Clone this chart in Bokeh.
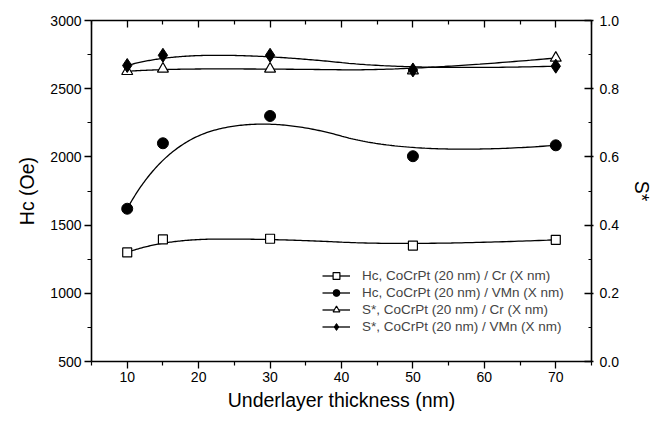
import numpy as np
from bokeh.plotting import figure
from bokeh.models import (Range1d, LinearAxis, Legend, LegendItem, FixedTicker,
                          NumeralTickFormatter)
from bokeh.embed import file_html
from bokeh.resources import INLINE

# ---- data ----
thickness = [10, 15, 30, 50, 70]
hc_cr = [1300, 1395, 1400, 1350, 1392]
hc_vmn = [1620, 2100, 2300, 2005, 2085]
s_cr = [0.851, 0.858, 0.858, 0.853, 0.890]
s_vmn = [0.868, 0.898, 0.898, 0.855, 0.866]

labels = [
    "Hc, CoCrPt (20 nm) / Cr (X nm)",
    "Hc, CoCrPt (20 nm) / VMn (X nm)",
    "S*, CoCrPt (20 nm) / Cr (X nm)",
    "S*, CoCrPt (20 nm) / VMn (X nm)",
]

left_ticks = [500, 1000, 1500, 2000, 2500, 3000]
left_minor = [750, 1250, 1750, 2250, 2750]
bottom_ticks = [10, 20, 30, 40, 50, 60, 70]
bottom_minor = [5, 15, 25, 35, 45, 55, 65, 75]
right_ticks = [0.0, 0.2, 0.4, 0.6, 0.8, 1.0]
right_minor = [0.1, 0.3, 0.5, 0.7, 0.9]


def bspline(xs, ys, n=200, k=2):
    P = np.column_stack([xs, ys]).astype(float)
    m = len(P)
    k = min(k, m - 1)
    n_int = m - k - 1
    knots = np.concatenate([np.zeros(k + 1),
                            np.linspace(0, 1, n_int + 2)[1:-1],
                            np.ones(k + 1)])
    out = []
    for t in np.linspace(0, 1, n):
        if t >= 1.0:
            out.append(P[-1])
            continue
        s = np.searchsorted(knots, t, side="right") - 1
        d = [P[j + s - k].copy() for j in range(k + 1)]
        for r in range(1, k + 1):
            for j in range(k, r - 1, -1):
                i = j + s - k
                a = (t - knots[i]) / (knots[i + k + 1 - r] - knots[i])
                d[j] = (1 - a) * d[j - 1] + a * d[j]
        out.append(d[k])
    out = np.array(out)
    return out[:, 0], out[:, 1]


FONT = "Liberation Sans"

p = figure(width=656, height=413, output_backend="svg", toolbar_location=None,
           x_range=Range1d(5, 75), y_range=Range1d(500, 3000),
           min_border_left=91, min_border_right=65, min_border_top=20, min_border_bottom=0)
p.extra_y_ranges = {"s": Range1d(0, 1.0)}
p.xgrid.visible = False
p.ygrid.visible = False
p.outline_line_color = None
p.background_fill_color = "white"
p.border_fill_color = "white"

# bottom axis
xa = p.xaxis[0]
xa.ticker = FixedTicker(ticks=bottom_ticks, minor_ticks=bottom_minor)
xa.axis_label = "Underlayer thickness (nm)"
# left axis
ya = p.yaxis[0]
ya.ticker = FixedTicker(ticks=left_ticks, minor_ticks=left_minor)
ya.axis_label = "Hc (Oe)"
# right axis
ra = LinearAxis(y_range_name="s", axis_label="S*",
                ticker=FixedTicker(ticks=right_ticks, minor_ticks=right_minor),
                formatter=NumeralTickFormatter(format="0.0"))
p.add_layout(ra, "right")
# top axis (ticks only, empty labels)
ta = LinearAxis(ticker=FixedTicker(ticks=bottom_ticks, minor_ticks=bottom_minor),
                major_label_overrides={t: "" for t in bottom_ticks})
p.add_layout(ta, "above")

for ax in [xa, ya, ra, ta]:
    ax.axis_line_width = 1.6
    ax.axis_line_color = "black"
    ax.major_tick_line_color = "black"
    ax.minor_tick_line_color = "black"
    ax.major_tick_line_width = 1.3
    ax.minor_tick_line_width = 1.2
    ax.major_label_text_font = FONT
    ax.major_label_text_font_size = "14px"
    ax.major_label_text_color = "black"
    ax.axis_label_text_font = FONT
    ax.axis_label_text_font_size = "19.5px"
    ax.axis_label_text_font_style = "normal"
    ax.axis_label_text_color = "black"

xa.major_tick_out, xa.major_tick_in = 7, 0
xa.minor_tick_out, xa.minor_tick_in = 4, 0
ya.major_tick_out, ya.major_tick_in = 7, 0
ya.minor_tick_out, ya.minor_tick_in = 4, 0
ra.major_tick_out, ra.major_tick_in = 2, 7
ra.minor_tick_out, ra.minor_tick_in = 0, 3
ta.major_tick_out, ta.major_tick_in = 0, 7
ta.minor_tick_out, ta.minor_tick_in = 0, 4
ta.major_label_standoff = 0
ta.axis_label_standoff = 0
xa.major_label_standoff = 3
xa.axis_label_standoff = 4
ya.major_label_standoff = 3
ya.axis_label_standoff = 9
ra.major_label_standoff = 6
ra.axis_label_standoff = 9

items = []
# Hc Cr
bx, by = bspline(thickness, hc_cr)
l1 = p.line(bx, by, line_color="black", line_width=1.3)
m1 = p.scatter(thickness, hc_cr, marker="square", size=9, fill_color="white",
               line_color="black", line_width=1.2)
items.append(LegendItem(label=labels[0], renderers=[l1, m1]))
# Hc VMn
bx, by = bspline(thickness, hc_vmn)
l2 = p.line(bx, by, line_color="black", line_width=1.3)
m2 = p.scatter(thickness, hc_vmn, marker="circle", size=11, fill_color="black",
               line_color="black")
items.append(LegendItem(label=labels[1], renderers=[l2, m2]))
# S* Cr
bx, by = bspline(thickness, s_cr)
l3 = p.line(bx, by, line_color="black", line_width=1.3, y_range_name="s")
m3 = p.scatter(thickness, s_cr, marker="triangle", size=11, fill_color="white",
               line_color="black", line_width=1.2, y_range_name="s")
items.append(LegendItem(label=labels[2], renderers=[l3, m3]))
# S* VMn
bx, by = bspline(thickness, s_vmn)
l4 = p.line(bx, by, line_color="black", line_width=1.3, y_range_name="s")
m4 = p.scatter(thickness, s_vmn, marker="diamond", size=14, fill_color="black",
               line_color="black", y_range_name="s")
items.append(LegendItem(label=labels[3], renderers=[l4, m4]))

leg = Legend(items=items, location=(231, 26), padding=0, margin=0, spacing=0,
             glyph_width=28, glyph_height=17, label_height=17, label_standoff=12,
             label_text_font=FONT, label_text_font_size="13.5px",
             border_line_color=None, background_fill_alpha=0)
p.add_layout(leg)

open("out.html", "w").write(file_html(p, INLINE))
